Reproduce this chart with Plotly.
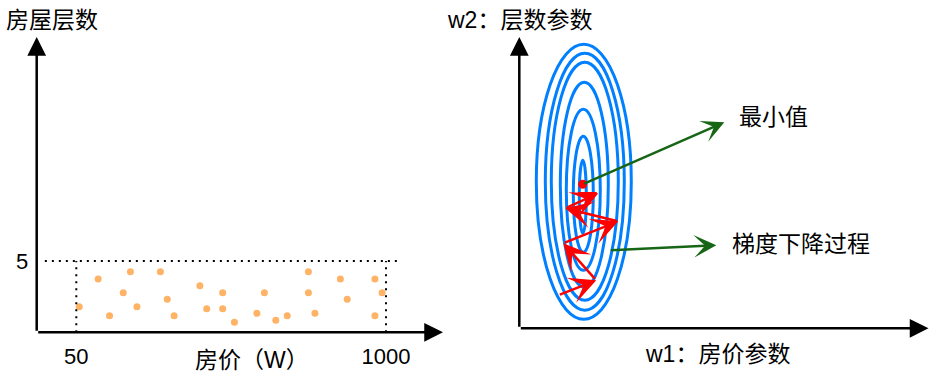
import plotly.graph_objects as go

W, H = 935, 379
FONT = "Liberation Sans, Noto Sans CJK SC, sans-serif"

# ---------------- left panel: house price vs floors ----------------
price = [59, 117, 152, 194, 216, 236, 308, 329, 350, 429, 450, 499, 499,
         535, 604, 627, 662, 697, 762, 762, 782, 860, 881, 966, 988, 966]
floors = [1.80, 3.74, 1.16, 2.78, 4.25, 1.80, 4.25, 2.31, 1.16, 3.27, 1.65, 2.78, 1.65,
          0.70, 1.33, 2.78, 0.84, 1.16, 4.25, 2.78, 1.33, 3.74, 2.31, 3.74, 2.78, 1.16]
price_ticks = [50, 1000]
price_ticktext = ["50", "1000"]
floor_ticks = [5]
floor_ticktext = ["5"]
floor_limit = 5
price_label = "房价（W）"
floor_label = "房屋层数"

# ---------------- right panel: loss contours and gradient descent ----------------
ell_w1_lo = [17, 26, 32, 41, 47, 54, 60]
ell_w1_hi = [112, 105, 99, 89, 81, 74, 67]
ell_w2_lo = [9, 18, 28, 41, 58, 76, 95]
ell_w2_hi = [284, 275, 266, 246, 219, 192, 168]
path_w1 = [39, 77, 44, 99, 46, 79, 59]
path_w2 = [33, 48, 85, 107, 120, 135, 135]
min_w1, min_w2 = [63.4], [144]
w1_label = "w1：房价参数"
w2_label = "w2：层数参数"
min_label = "最小值"
gd_label = "梯度下降过程"

# ---------------- axis geometry ----------------
L_ORIGIN_PX, L_ORIGIN_PY = 36.7, 332.3
px_per_price = 309.7 / 950.0
px_per_floor = 14.26
L_xr = [50 - (76.3 - L_ORIGIN_PX) / px_per_price, 50 + (W / 2 - 76.3) / px_per_price]
L_yr = [0, L_ORIGIN_PY / px_per_floor]
L_xtip = 50 + (443 - 76.3) / px_per_price
L_ytip = (L_ORIGIN_PY - 37) / px_per_floor

R_ORIGIN_PX, R_ORIGIN_PY = 519.3, 328.3
R_xr = [0, W - R_ORIGIN_PX]
R_yr = [0, R_ORIGIN_PY]
R_xtip = 928.5 - R_ORIGIN_PX
R_ytip = R_ORIGIN_PY - 37

fig = go.Figure()

# scatter points
fig.add_trace(go.Scatter(x=price, y=floors, mode="markers", xaxis="x", yaxis="y",
                         marker=dict(color="#FFB366", size=7), cliponaxis=False,
                         hoverinfo="skip", showlegend=False))
# dotted guide lines
fig.add_trace(go.Scatter(x=[L_xr[0] + 25, 1037], y=[floor_limit, floor_limit], mode="lines",
                         xaxis="x", yaxis="y", line=dict(color="black", width=2, dash="2px,5px"),
                         hoverinfo="skip", showlegend=False))
for pv in price_ticks:
    fig.add_trace(go.Scatter(x=[pv, pv], y=[0, floor_limit], mode="lines",
                             xaxis="x", yaxis="y", line=dict(color="black", width=2, dash="2px,5px"),
                             hoverinfo="skip", showlegend=False))

# contour ellipses
shapes = []
for a, b, c, d in zip(ell_w1_lo, ell_w1_hi, ell_w2_lo, ell_w2_hi):
    shapes.append(dict(type="circle", xref="x2", yref="y2", x0=a, x1=b, y0=c, y1=d,
                       line=dict(color="#0080FF", width=3), layer="below"))

# minimum point
fig.add_trace(go.Scatter(x=min_w1, y=min_w2, mode="markers", xaxis="x2", yaxis="y2",
                         marker=dict(color="#FF0000", size=9), cliponaxis=False,
                         hoverinfo="skip", showlegend=False))

annotations = []


def arrow(x0, y0, x1, y1, xr, yr, color, width, head, size):
    annotations.append(dict(x=x1, y=y1, ax=x0, ay=y0, xref=xr, yref=yr, axref=xr, ayref=yr,
                            text="", showarrow=True, arrowcolor=color, arrowwidth=width,
                            arrowhead=head, arrowsize=size, standoff=0, startstandoff=0))


# axes arrows
arrow(L_xr[0], 0, L_xtip, 0, "x", "y", "black", 2.5, 2, 1.5)
arrow(L_xr[0], 0, L_xr[0], L_ytip, "x", "y", "black", 2.5, 2, 1.5)
arrow(0, 0, R_xtip, 0, "x2", "y2", "black", 2.5, 2, 1.5)
arrow(0, 0, 0, R_ytip, "x2", "y2", "black", 2.5, 2, 1.5)

# gradient descent path
for i in range(len(path_w1) - 1):
    last = i == len(path_w1) - 2
    arrow(path_w1[i], path_w2[i], path_w1[i + 1], path_w2[i + 1], "x2", "y2",
          "#FF0000", 2.5, 0 if last else 3, 1.8)

# green pointers
arrow(min_w1[0], min_w2[0], 205, 206, "x2", "y2", "#166616", 2.5, 3, 1.5)
arrow(90, 78, 197, 83, "x2", "y2", "#166616", 2.5, 3, 1.5)

# texts
txt = dict(font=dict(family=FONT, size=23, color="black"), showarrow=False)
annotations.append(dict(text=min_label, x=218, y=211, xref="x2", yref="y2",
                        xanchor="left", yanchor="middle", **txt))
annotations.append(dict(text=gd_label, x=211, y=84, xref="x2", yref="y2",
                        xanchor="left", yanchor="middle", **txt))
annotations.append(dict(text=w2_label, x=445 / W, y=1 - 20 / H, xref="paper", yref="paper",
                        xanchor="left", yanchor="middle", **txt))
annotations.append(dict(text=w1_label, x=643 / W, y=1 - 354 / H, xref="paper", yref="paper",
                        xanchor="left", yanchor="middle", **txt))
annotations.append(dict(text=floor_label, x=4 / W, y=1 - 20 / H, xref="paper", yref="paper",
                        xanchor="left", yanchor="middle", **txt))
annotations.append(dict(text=price_label, x=252 / W, y=1 - 360 / H, xref="paper", yref="paper",
                        xanchor="center", yanchor="middle", **txt))

hidden = dict(showgrid=False, zeroline=False, showline=False, fixedrange=True)
fig.update_layout(
    width=W, height=H, margin=dict(l=0, r=0, t=0, b=0),
    paper_bgcolor="white", plot_bgcolor="rgba(0,0,0,0)",
    font=dict(family=FONT, size=22, color="black"),
    xaxis=dict(domain=[L_ORIGIN_PX / W, 0.5], range=L_xr, tickvals=price_ticks,
               ticktext=price_ticktext, ticks="outside", ticklen=4,
               tickcolor="rgba(0,0,0,0)", anchor="y", **hidden),
    yaxis=dict(domain=[1 - L_ORIGIN_PY / H, 1], range=L_yr, tickvals=floor_ticks,
               ticktext=floor_ticktext, ticks="outside", ticklen=3,
               tickcolor="rgba(0,0,0,0)", anchor="x", **hidden),
    xaxis2=dict(domain=[R_ORIGIN_PX / W, 1], range=R_xr, showticklabels=False,
                anchor="y2", **hidden),
    yaxis2=dict(domain=[1 - R_ORIGIN_PY / H, 1], range=R_yr, showticklabels=False,
                anchor="x2", **hidden),
    shapes=shapes, annotations=annotations, showlegend=False,
)

fig.write_html("out.html", post_script="document.body.style.margin='0';",
               config={"displayModeBar": False})
